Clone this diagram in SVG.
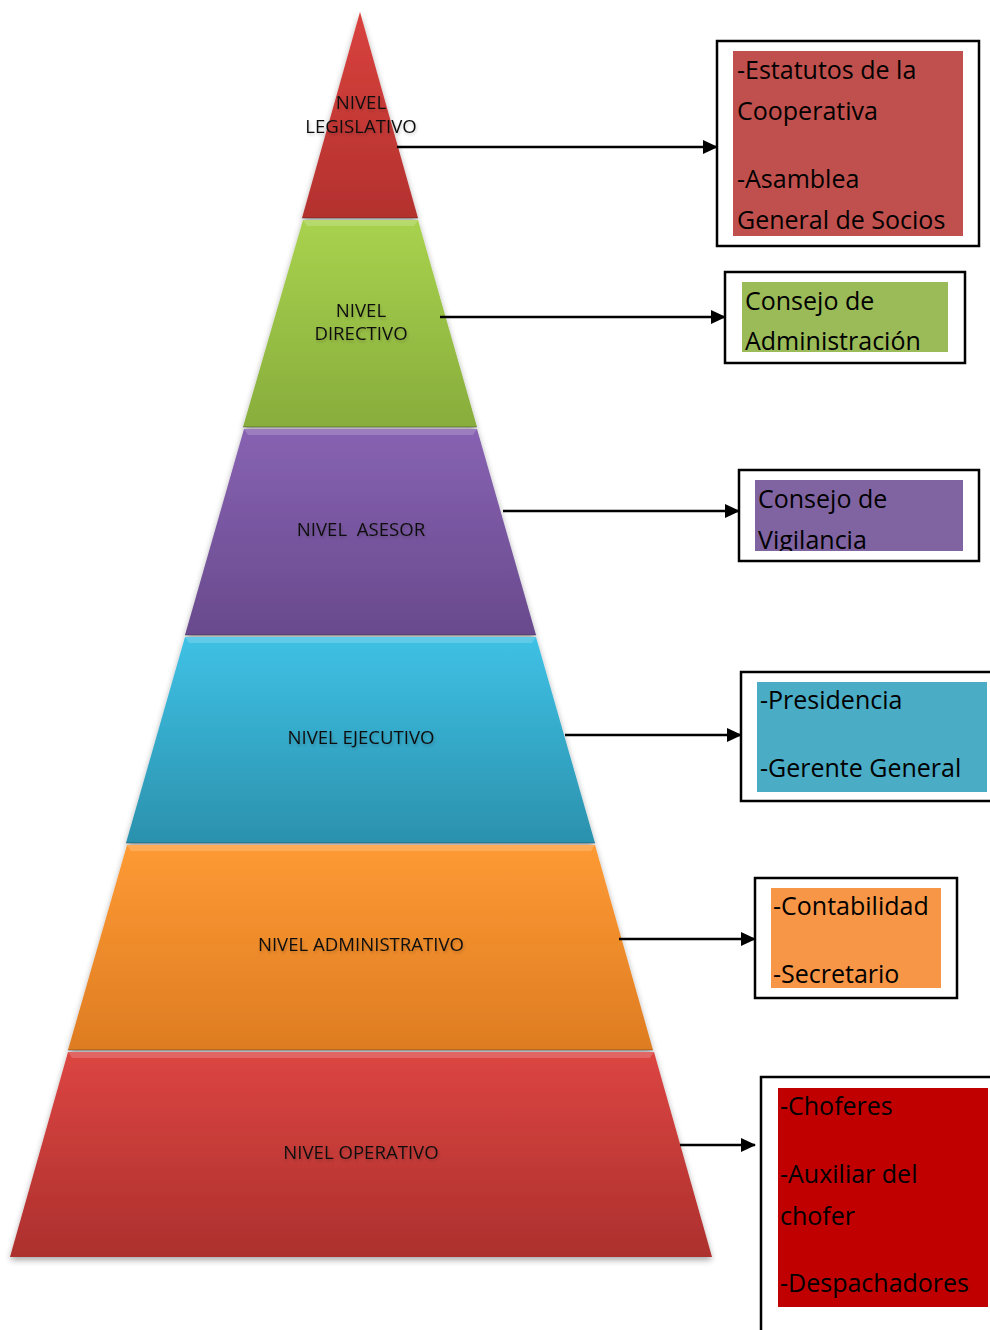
<svg xmlns="http://www.w3.org/2000/svg" width="990" height="1330" viewBox="0 0 990 1330">
<style>
.lvl{font-family:"Open Sans","Liberation Sans",sans-serif;font-size:18.6px;fill:#111;text-anchor:middle}
.box{fill:#fff;stroke:#000;stroke-width:2.5}
.bt{font-family:"Open Sans","Liberation Sans",sans-serif;font-size:25px;fill:#000}
.conn{stroke:#000;stroke-width:2.5;fill:none}
.sep{stroke:#000;stroke-opacity:0.2;stroke-width:1.5}
.hl{fill:#fff;fill-opacity:0.18}
</style>
<defs>
<linearGradient id="gRed1" x1="0" y1="0" x2="0" y2="1"><stop offset="0" stop-color="#D9423E"/><stop offset="1" stop-color="#B3312E"/></linearGradient>
<linearGradient id="gGreen" x1="0" y1="0" x2="0" y2="1"><stop offset="0" stop-color="#A8D24E"/><stop offset="1" stop-color="#88AD3C"/></linearGradient>
<linearGradient id="gPurple" x1="0" y1="0" x2="0" y2="1"><stop offset="0" stop-color="#8762B2"/><stop offset="1" stop-color="#694A8D"/></linearGradient>
<linearGradient id="gCyan" x1="0" y1="0" x2="0" y2="1"><stop offset="0" stop-color="#3FC1E5"/><stop offset="1" stop-color="#2B91AD"/></linearGradient>
<linearGradient id="gOrange" x1="0" y1="0" x2="0" y2="1"><stop offset="0" stop-color="#FE9A34"/><stop offset="1" stop-color="#DE7C22"/></linearGradient>
<linearGradient id="gRed2" x1="0" y1="0" x2="0" y2="1"><stop offset="0" stop-color="#DC4542"/><stop offset="1" stop-color="#AC302D"/></linearGradient>
<filter id="shadow" x="-10%" y="-10%" width="120%" height="120%"><feGaussianBlur in="SourceAlpha" stdDeviation="3"/><feOffset dx="0" dy="3"/><feComponentTransfer><feFuncA type="linear" slope="0.35"/></feComponentTransfer><feMerge><feMergeNode/><feMergeNode in="SourceGraphic"/></feMerge></filter>
<filter id="glow" x="-10%" y="-30%" width="120%" height="160%"><feGaussianBlur in="SourceAlpha" stdDeviation="1.5"/><feComponentTransfer><feFuncA type="linear" slope="0.2"/></feComponentTransfer><feOffset dx="1" dy="2"/><feMerge><feMergeNode/><feMergeNode in="SourceGraphic"/></feMerge></filter>
<marker id="arr" markerWidth="15" markerHeight="14" refX="14" refY="7" orient="auto" markerUnits="userSpaceOnUse" viewBox="0 0 15 14"><path d="M0,0 L15,7 L0,14 z" fill="#000"/></marker>
<clipPath id="c1"><rect x="733" y="51" width="230" height="185"/></clipPath>
<clipPath id="c2"><rect x="742" y="282" width="206" height="70"/></clipPath>
<clipPath id="c3"><rect x="755" y="480" width="208" height="71"/></clipPath>
<clipPath id="c4"><rect x="757" y="682" width="230" height="110"/></clipPath>
<clipPath id="c5"><rect x="771" y="888" width="170" height="100"/></clipPath>
<clipPath id="c6"><rect x="778" y="1088" width="210" height="219"/></clipPath>
</defs>
<rect width="990" height="1330" fill="#fff"/>

<g id="pyramid" filter="url(#shadow)">
<g id="level-legislativo">
<polygon points="360,12 418,218 302,218" fill="url(#gRed1)"/>
<line class="sep" x1="302" y1="218" x2="418" y2="218"/>
</g>
<g id="level-directivo">
<polygon points="303,220 418,220 477,427 243,427" fill="url(#gGreen)"/>
<polygon class="hl" points="303,220 418,220 414,226 307,226"/>
<line class="sep" x1="243" y1="427" x2="477" y2="427"/>
</g>
<g id="level-asesor">
<polygon points="244,429 477,429 536,635 185,635" fill="url(#gPurple)"/>
<polygon class="hl" points="244,429 477,429 473,435 248,435"/>
<line class="sep" x1="185" y1="635" x2="536" y2="635"/>
</g>
<g id="level-ejecutivo">
<polygon points="185,637 536,637 595,843 126,843" fill="url(#gCyan)"/>
<polygon class="hl" points="185,637 536,637 532,643 189,643"/>
<line class="sep" x1="126" y1="843" x2="595" y2="843"/>
</g>
<g id="level-administrativo">
<polygon points="127,845 595,845 653,1050 68,1050" fill="url(#gOrange)"/>
<polygon class="hl" points="127,845 595,845 591,851 131,851"/>
<line class="sep" x1="68" y1="1050" x2="653" y2="1050"/>
</g>
<g id="level-operativo">
<polygon points="68,1052 654,1052 712,1257 10,1257" fill="url(#gRed2)"/>
<polygon class="hl" points="68,1052 654,1052 650,1058 72,1058"/>
</g>
</g>

<g id="pyramid-labels" filter="url(#glow)">
<text class="lvl" x="361" y="109">NIVEL</text>
<text class="lvl" x="361" y="133">LEGISLATIVO</text>
<text class="lvl" x="361" y="317">NIVEL</text>
<text class="lvl" x="361" y="340">DIRECTIVO</text>
<text class="lvl" x="361" y="536" xml:space="preserve">NIVEL  ASESOR</text>
<text class="lvl" x="361" y="744">NIVEL EJECUTIVO</text>
<text class="lvl" x="361" y="951">NIVEL ADMINISTRATIVO</text>
<text class="lvl" x="361" y="1159">NIVEL OPERATIVO</text>
</g>

<g id="connectors">
<line class="conn" x1="397" y1="147" x2="717" y2="147" marker-end="url(#arr)"/>
<line class="conn" x1="440" y1="317" x2="725" y2="317" marker-end="url(#arr)"/>
<line class="conn" x1="503" y1="511" x2="739" y2="511" marker-end="url(#arr)"/>
<line class="conn" x1="565" y1="735" x2="741" y2="735" marker-end="url(#arr)"/>
<line class="conn" x1="619" y1="939" x2="755" y2="939" marker-end="url(#arr)"/>
<line class="conn" x1="680" y1="1145" x2="755" y2="1145" marker-end="url(#arr)"/>
</g>

<g id="box-legislativo">
<rect class="box" x="717" y="41" width="262" height="205"/>
<rect x="733" y="51" width="230" height="185" fill="#C0504D"/>
<g clip-path="url(#c1)">
<text class="bt" x="737" y="79">-Estatutos de la</text>
<text class="bt" x="737" y="120">Cooperativa</text>
<text class="bt" x="737" y="188">-Asamblea</text>
<text class="bt" x="737" y="229">General de Socios</text>
</g>
</g>

<g id="box-directivo">
<rect class="box" x="725" y="272" width="240" height="91"/>
<rect x="742" y="282" width="206" height="70" fill="#9BBB59"/>
<g clip-path="url(#c2)">
<text class="bt" x="745" y="310">Consejo de</text>
<text class="bt" x="745" y="350">Administración</text>
</g>
</g>

<g id="box-asesor">
<rect class="box" x="739" y="470" width="240" height="91"/>
<rect x="755" y="480" width="208" height="71" fill="#8064A2"/>
<g clip-path="url(#c3)">
<text class="bt" x="758" y="508">Consejo de</text>
<text class="bt" x="758" y="549">Vigilancia</text>
</g>
</g>

<g id="box-ejecutivo">
<rect class="box" x="741" y="672" width="260" height="129"/>
<rect x="757" y="682" width="230" height="110" fill="#4BACC6"/>
<g clip-path="url(#c4)">
<text class="bt" x="760" y="709">-Presidencia</text>
<text class="bt" x="760" y="777">-Gerente General</text>
</g>
</g>

<g id="box-administrativo">
<rect class="box" x="755" y="878" width="202" height="120"/>
<rect x="771" y="888" width="170" height="100" fill="#F79646"/>
<g clip-path="url(#c5)">
<text class="bt" x="773" y="915">-Contabilidad</text>
<text class="bt" x="773" y="983">-Secretario</text>
</g>
</g>

<g id="box-operativo">
<rect class="box" x="761" y="1077" width="260" height="280"/>
<rect x="778" y="1088" width="210" height="219" fill="#C00000"/>
<g clip-path="url(#c6)">
<text class="bt" x="780" y="1115">-Choferes</text>
<text class="bt" x="780" y="1183">-Auxiliar del</text>
<text class="bt" x="780" y="1225">chofer</text>
<text class="bt" x="780" y="1292">-Despachadores</text>
</g>
</g>
</svg>
